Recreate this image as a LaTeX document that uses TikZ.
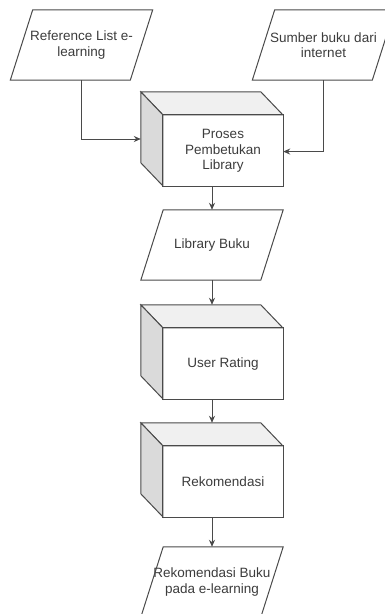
\documentclass[tikz,border=0pt]{standalone}
\usepackage{fontspec}
\setmainfont{Liberation Sans}
\usetikzlibrary{arrows.meta}

\definecolor{edgegray}{HTML}{4A4A4A}
\definecolor{topgray}{HTML}{F0F0F0}
\definecolor{sidegray}{HTML}{DADADA}
\definecolor{textgray}{HTML}{3C3C3C}

\begin{document}
\begin{tikzpicture}[x=1pt, y=-1pt]
  \tikzset{
    boxtext/.style={
      font=\fontsize{13.5}{15.5}\selectfont, text=textgray, align=center
    },
    iobox/.style={
      boxtext, minimum width=142, minimum height=70, inner sep=0
    },
    cube/.style={
      minimum width=142, minimum height=94, inner sep=0,
      label={[boxtext, xshift=11pt, yshift=-12pt]center:#1}
    },
    flow/.style={
      draw=edgegray, line width=1pt, -{Stealth[length=7pt, width=6pt]}
    }
  }
  \useasboundingbox (0,0) rectangle (385,614);

  \node [iobox] (reflist) at (81.5, 45) {Reference List e-\\learning};
  \node [iobox] (sumber) at (323.5, 45) {Sumber buku dari\\internet};
  \node [cube={Proses\\Pembetukan\\Library}] (proses) at (212, 139) {};
  \node [iobox] (library) at (212, 245) {Library Buku};
  \node [cube={User Rating}] (rating) at (212, 352) {};
  \node [cube={Rekomendasi}] (rekom) at (212, 470) {};
  \node [iobox] (hasil) at (212, 582) {Rekomendasi Buku\\pada e-learning};

  % parallelogram outlines round the data nodes
  \foreach \p in {reflist, sumber, library, hasil} {
    \draw [edgegray, line width=1pt]
      (\p.south west) -- ++(120, 0) -- (\p.north east) -- ++(-120, 0) -- cycle;
  }

  % the three faces of every cube
  \foreach \c in {proses, rating, rekom} {
    \draw [edgegray, line width=1pt, fill=topgray]
      (\c.north west) -- ++(120, 0) -- ++(22, 23) -- ++(-120, 0) -- cycle;
    \draw [edgegray, line width=1pt, fill=sidegray]
      (\c.north west) -- ++(22, 23) -- ++(0, 71) -- ++(-22, -23) -- cycle;
    \draw [edgegray, line width=1pt]
      ([shift={(22, 23)}]\c.north west) rectangle (\c.south east);
  }

  \draw [flow] (reflist.south) |- (proses.west);
  \draw [flow] (sumber.south) |- (proses.-10);
  \draw [flow] (proses) -- (library);
  \draw [flow] (library) -- (rating);
  \draw [flow] (rating) -- (rekom);
  \draw [flow] (rekom) -- (hasil);
\end{tikzpicture}
\end{document}
